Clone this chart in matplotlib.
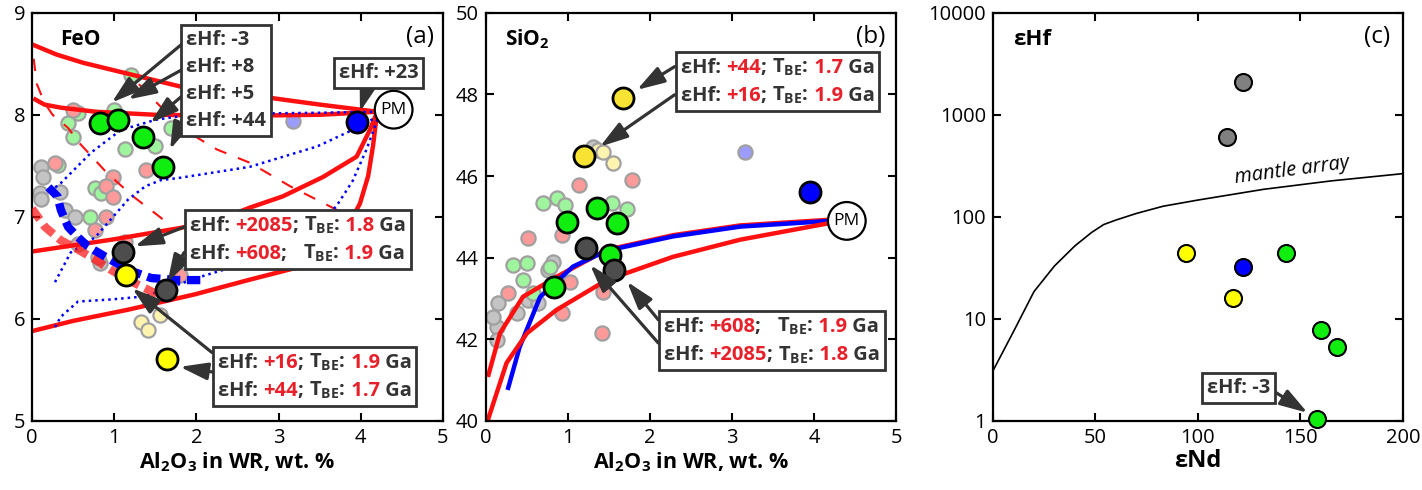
import matplotlib
matplotlib.use("Agg")
import matplotlib.pyplot as plt
from matplotlib.offsetbox import TextArea, HPacker, VPacker, AnnotationBbox

plt.rcParams["font.family"] = ["Open Sans", "DejaVu Sans"]
plt.rcParams["mathtext.fontset"] = "custom"
plt.rcParams["mathtext.rm"] = "Open Sans"
plt.rcParams["mathtext.bf"] = "Open Sans:bold"
plt.rcParams["mathtext.it"] = "Open Sans:italic"

DARK = "#333333"
RED = "#ff1010"
TRED = "#e8202a"
BLUE = "#0000ff"
GREEN = "#10ee10"

# ---------------- panel (a): FeO vs Al2O3 ----------------
a_green_x = [0.83, 1.05, 1.35, 1.59]
a_green_y = [7.92, 7.95, 7.78, 7.49]
a_blue_x = [3.96]
a_blue_y = [7.93]
a_gray_x = [1.11, 1.63]
a_gray_y = [6.66, 6.28]
a_yellow_x = [1.14, 1.64]
a_yellow_y = [6.43, 5.61]

a_fgreen_x = [1.21, 0.56, 0.44, 0.50, 1.00, 1.13, 1.69, 1.50, 0.32, 0.77, 0.84, 0.71]
a_fgreen_y = [8.39, 8.02, 7.92, 7.78, 8.05, 7.66, 7.87, 7.69, 7.51, 7.28, 7.23, 7.00]
a_fpink_x = [0.50, 1.39, 0.28, 0.99, 0.90, 0.99, 0.90, 0.77, 0.56, 1.13, 0.80, 1.80]
a_fpink_y = [8.05, 7.46, 7.53, 7.39, 7.30, 7.19, 7.00, 6.87, 6.73, 6.75, 6.61, 6.43]
a_fgray_x = [0.11, 0.13, 0.10, 0.11, 0.34, 0.40, 0.52, 0.83]
a_fgray_y = [7.49, 7.39, 7.23, 7.17, 7.24, 7.07, 7.00, 6.55]
a_fyellow_x = [1.33, 1.41, 1.56]
a_fyellow_y = [5.97, 5.89, 6.04]
a_fblue_x = [3.18]
a_fblue_y = [7.94]

# red model curves (solid)
a_r1_x = [0.0, 0.3, 0.62, 1.23, 1.84, 2.86, 3.5, 4.2]
a_r1_y = [8.69, 8.59, 8.51, 8.39, 8.27, 8.17, 8.10, 8.03]
a_r2_x = [0.04, 0.15, 0.35, 0.77, 1.5, 2.5, 3.5, 4.2]
a_r2_y = [8.15, 8.10, 8.07, 8.03, 8.00, 7.99, 8.00, 8.03]
a_r3_x = [0.0, 0.5, 1.0, 1.8, 2.3, 2.65, 3.05, 3.54, 3.95, 4.11, 4.2]
a_r3_y = [6.66, 6.72, 6.78, 6.89, 6.98, 7.09, 7.20, 7.39, 7.59, 7.85, 8.03]
a_r4_x = [0.0, 0.5, 1.17, 1.98, 2.63, 3.26, 3.75, 3.99, 4.09, 4.15, 4.2]
a_r4_y = [5.88, 5.98, 6.09, 6.24, 6.38, 6.51, 6.77, 7.13, 7.40, 7.70, 8.03]
# red dashed thin curves
a_rd1_x = [0.02, 0.06, 0.15, 0.25, 0.44, 0.58, 0.90, 1.23, 1.57, 1.62]
a_rd1_y = [8.55, 8.30, 8.12, 8.00, 7.87, 7.72, 7.44, 7.20, 6.99, 6.95]
a_rd2_x = [1.30, 1.60, 1.96, 2.25, 2.65, 3.14, 3.63, 3.75]
a_rd2_y = [8.30, 8.05, 7.80, 7.66, 7.53, 7.30, 7.10, 7.05]
# thick red dashed
a_rt_x = [0.0, 0.16, 0.35, 0.56, 0.77, 0.96, 1.25, 1.45, 1.65]
a_rt_y = [7.08, 6.90, 6.77, 6.68, 6.58, 6.48, 6.35, 6.27, 6.19]
# thick blue dashed
a_bt_x = [0.20, 0.31, 0.35, 0.44, 0.56, 0.68, 0.89, 1.17, 1.45, 1.78, 2.10]
a_bt_y = [7.29, 7.20, 7.07, 6.90, 6.80, 6.71, 6.61, 6.48, 6.40, 6.38, 6.38]
# blue dotted curves
a_bd1_x = [0.22, 0.35, 0.72, 1.08, 1.50, 1.74, 2.5, 3.5, 4.2]
a_bd1_y = [7.25, 7.33, 7.63, 7.85, 7.95, 7.98, 8.01, 8.02, 8.03]
a_bd2_x = [0.28, 0.47, 0.77, 1.17, 1.38, 1.57, 1.78, 2.65, 3.47, 3.87, 4.2]
a_bd2_y = [6.36, 6.65, 6.80, 7.17, 7.30, 7.36, 7.38, 7.49, 7.69, 7.84, 7.98]
a_bd3_x = [0.28, 0.35, 0.56, 0.96, 1.37, 2.04, 2.45, 3.0, 3.4, 3.7, 3.9, 4.07, 4.2]
a_bd3_y = [5.92, 6.02, 6.17, 6.19, 6.22, 6.41, 6.51, 6.70, 6.90, 7.10, 7.35, 7.66, 7.95]

# ---------------- panel (b): SiO2 vs Al2O3 ----------------
b_green_x = [0.99, 1.35, 1.60, 1.51, 0.83]
b_green_y = [44.88, 45.22, 44.86, 44.07, 43.28]
b_gray_x = [1.22, 1.56]
b_gray_y = [44.24, 43.70]
b_yellow_x = [1.67, 1.20]
b_yellow_y = [47.92, 46.50]
b_blue_x = [3.95]
b_blue_y = [45.61]

b_fgreen_x = [0.70, 0.86, 0.96, 1.54, 1.72, 0.33, 0.50, 0.45, 0.78, 0.57]
b_fgreen_y = [45.33, 45.46, 45.29, 45.33, 45.20, 43.81, 43.86, 43.45, 43.77, 43.13]
b_fpink_x = [1.13, 1.78, 0.93, 0.51, 0.27, 1.02, 0.93, 1.43, 1.41]
b_fpink_y = [45.78, 45.90, 44.56, 44.49, 43.14, 43.41, 42.65, 43.16, 42.16]
b_fgray_x = [1.30, 0.82, 0.76, 0.15, 0.38, 0.13, 0.13, 0.51, 0.63, 0.09]
b_fgray_y = [46.70, 43.90, 43.70, 42.90, 42.65, 42.30, 41.99, 42.97, 42.90, 42.55]
b_fyellow_x = [1.37, 1.43, 1.55]
b_fyellow_y = [46.64, 46.60, 46.32]
b_fblue_x = [3.16]
b_fblue_y = [46.60]

b_r1_x = [0.03, 0.17, 0.45, 0.86, 1.47, 2.28, 3.10, 4.20]
b_r1_y = [41.13, 42.15, 43.04, 43.53, 44.19, 44.55, 44.79, 44.93]
b_b1_x = [0.27, 0.41, 0.66, 1.06, 1.47, 2.28, 3.10, 4.20]
b_b1_y = [40.81, 41.81, 43.04, 43.78, 44.17, 44.52, 44.76, 44.90]
b_r2_x = [0.03, 0.25, 0.50, 0.86, 1.47, 2.28, 3.10, 4.20]
b_r2_y = [40.07, 41.42, 42.15, 42.72, 43.45, 44.02, 44.44, 44.85]

# ---------------- panel (c): eHf vs eNd ----------------
c_gray_x = [122, 114]
c_gray_y = [2085, 608]
c_yellow_x = [94, 117]
c_yellow_y = [44, 16]
c_blue_x = [122]
c_blue_y = [32]
c_green_x = [143, 160, 168, 158]
c_green_y = [44, 7.7, 5.3, 1.05]
mantle_x = [0, 10, 20, 30, 40, 48, 54, 60, 70, 83, 100, 132, 165, 200]
mantle_y = [3.1, 7.5, 18.5, 33, 52, 70, 84, 93, 108, 127, 146, 186, 225, 265]

a_ticks_x = [0, 1, 2, 3, 4, 5]
a_ticks_y = [5, 6, 7, 8, 9]
b_ticks_y = [40, 42, 44, 46, 48, 50]
c_ticks_x = [0, 50, 100, 150, 200]
c_ticks_y = [1, 10, 100, 1000, 10000]
c_tick_labels = ["1", "10", "100", "1000", "10000"]

FS = 14.5      # tick labels
BFS = 14.5     # box text


def style_axes(ax):
    for s in ax.spines.values():
        s.set_linewidth(1.6)
    ax.tick_params(direction="in", top=True, right=True, length=6, width=1.5,
                   labelsize=FS, pad=5)
    ax.tick_params(which="minor", left=False, right=False, top=False, bottom=False)


def big(ax, x, y, color, s=230):
    ax.scatter(x, y, s=s, c=color, edgecolors="black", linewidths=2.0, zorder=4)


def faded(ax, x, y, color, s=105):
    ax.scatter(x, y, s=s, c=color, edgecolors="#a0a0a0", linewidths=1.6, zorder=1)


def info_box(ax, rows, x, y):
    lines = []
    for row in rows:
        parts = [TextArea(t, textprops=dict(color=c, fontsize=BFS, fontweight="bold"))
                 for t, c in row]
        lines.append(HPacker(children=parts, align="baseline", pad=0, sep=0))
    box = VPacker(children=lines, align="left", pad=0, sep=5)
    ab = AnnotationBbox(box, (x, y), xycoords="axes fraction", box_alignment=(0, 1),
                        frameon=True,
                        bboxprops=dict(edgecolor=DARK, facecolor="white", linewidth=2,
                                       boxstyle="square,pad=0.35"))
    ab.set_zorder(7)
    ax.add_artist(ab)


def tbe_row(eps, age, gap=" "):
    return [("εHf: ", DARK), (eps, TRED), (";" + gap, DARK), (r"T$_\mathbf{BE}$:", DARK),
            (" " + age, TRED), (" Ga", DARK)]


def arrow(ax, start, end):
    ax.annotate("", xy=end, xytext=start, zorder=6,
                arrowprops=dict(arrowstyle="-|>,head_length=0.8,head_width=0.25",
                                color=DARK, lw=2.3, shrinkA=0, shrinkB=0,
                                mutation_scale=21))


def pm_label(ax, x, y):
    ax.text(x, y, "PM", fontsize=12.5, ha="center", va="center", zorder=5,
            bbox=dict(boxstyle="circle,pad=0.33", facecolor="white",
                      edgecolor="black", linewidth=1.6))


fig = plt.figure(figsize=(14.22, 4.9), dpi=100)
ax_a = fig.add_axes([0.0225, 0.141, 0.289, 0.833])
ax_b = fig.add_axes([0.3418, 0.141, 0.2883, 0.833])
ax_c = fig.add_axes([0.6983, 0.141, 0.2883, 0.833])

xlabel = r"Al$_\mathbf{2}$O$_\mathbf{3}$ in WR, wt. %"

# ---- (a)
ax = ax_a
faded(ax, a_fgray_x, a_fgray_y, "#c4c4c4")
faded(ax, a_fgreen_x, a_fgreen_y, "#9ef59e")
faded(ax, a_fpink_x, a_fpink_y, "#ff9a9a")
faded(ax, a_fyellow_x, a_fyellow_y, "#fff3b0")
faded(ax, a_fblue_x, a_fblue_y, "#9c9cff")
ax.plot(a_r1_x, a_r1_y, color=RED, lw=3.2, zorder=2)
ax.plot(a_r2_x, a_r2_y, color=RED, lw=3.2, zorder=2)
ax.plot(a_r3_x, a_r3_y, color=RED, lw=3.2, zorder=2)
ax.plot(a_r4_x, a_r4_y, color=RED, lw=3.2, zorder=2)
ax.plot(a_rd1_x, a_rd1_y, color=RED, lw=1.5, dashes=(6, 6), zorder=2)
ax.plot(a_rd2_x, a_rd2_y, color=RED, lw=1.5, dashes=(6, 6), zorder=2)
ax.plot(a_rt_x, a_rt_y, color=RED, lw=6, alpha=0.7, dashes=(1.6, 0.8), zorder=3)
ax.plot(a_bt_x, a_bt_y, color=BLUE, lw=6, dashes=(1.6, 0.8), zorder=3)
ax.plot(a_bd1_x, a_bd1_y, color=BLUE, lw=1.8, linestyle=(0, (1, 1.6)), zorder=2)
ax.plot(a_bd2_x, a_bd2_y, color=BLUE, lw=1.8, linestyle=(0, (1, 1.6)), zorder=2)
ax.plot(a_bd3_x, a_bd3_y, color=BLUE, lw=1.8, linestyle=(0, (1, 1.6)), zorder=2)
big(ax, a_green_x, a_green_y, GREEN)
big(ax, a_blue_x, a_blue_y, BLUE)
big(ax, a_gray_x, a_gray_y, "#4d4d4d")
big(ax, a_yellow_x, a_yellow_y, "#ffff00")
pm_label(ax, 4.4, 8.05)
ax.set_xlim(0, 5)
ax.set_ylim(5, 9)
ax.set_xticks(a_ticks_x)
ax.set_yticks(a_ticks_y)
style_axes(ax)
ax.set_xlabel(xlabel, fontsize=15.5, fontweight="bold", labelpad=2)
ax.text(0.068, 0.935, "FeO", transform=ax.transAxes, fontsize=15, fontweight="bold",
        va="center")
ax.text(0.978, 0.94, "(a)", transform=ax.transAxes, fontsize=17.5, va="center",
        ha="right")

K = DARK
info_box(ax, [[("εHf: -3", K)], [("εHf: +8", K)], [("εHf: +5", K)], [("εHf: +44", K)]],
         0.375, 0.958)
arrow(ax, (1.82, 8.69), (0.97, 8.12))
arrow(ax, (1.82, 8.44), (1.17, 8.15))
arrow(ax, (1.82, 8.18), (1.44, 7.92))
arrow(ax, (1.82, 7.92), (1.68, 7.66))
info_box(ax, [[("εHf: +23", K)]], 0.747, 0.877)
arrow(ax, (4.08, 8.27), (3.99, 8.03))
info_box(ax, [tbe_row("+2085", "1.8"), tbe_row("+608", "1.9", "   ")], 0.384, 0.505)
arrow(ax, (1.85, 6.90), (1.25, 6.71))
arrow(ax, (1.85, 6.65), (1.65, 6.36))
info_box(ax, [tbe_row("+16", "1.9"), tbe_row("+44", "1.7")], 0.453, 0.169)
arrow(ax, (2.19, 5.67), (1.22, 6.30))
arrow(ax, (2.19, 5.48), (1.80, 5.53))

# ---- (b)
ax = ax_b
faded(ax, b_fgray_x, b_fgray_y, "#c4c4c4")
faded(ax, b_fgreen_x, b_fgreen_y, "#9ef59e")
faded(ax, b_fpink_x, b_fpink_y, "#ff9a9a")
faded(ax, b_fyellow_x, b_fyellow_y, "#fff3b0")
faded(ax, b_fblue_x, b_fblue_y, "#9c9cff")
ax.plot(b_r1_x, b_r1_y, color=RED, lw=3.2, zorder=2)
ax.plot(b_b1_x, b_b1_y, color=BLUE, lw=3.2, zorder=2)
ax.plot(b_r2_x, b_r2_y, color=RED, lw=3.2, zorder=2)
big(ax, b_green_x, b_green_y, GREEN)
big(ax, b_gray_x, b_gray_y, "#4d4d4d")
big(ax, b_yellow_x, b_yellow_y, "#f8e234")
big(ax, b_blue_x, b_blue_y, BLUE)
pm_label(ax, 4.4, 44.9)
ax.set_xlim(0, 5)
ax.set_ylim(40, 50)
ax.set_xticks(a_ticks_x)
ax.set_yticks(b_ticks_y)
style_axes(ax)
ax.set_xlabel(xlabel, fontsize=15.5, fontweight="bold", labelpad=2)
ax.text(0.046, 0.935, r"SiO$_\mathbf{2}$", transform=ax.transAxes, fontsize=15,
        fontweight="bold", va="center")
ax.text(0.973, 0.94, "(b)", transform=ax.transAxes, fontsize=17.5, va="center",
        ha="right")
info_box(ax, [tbe_row("+44", "1.7"), tbe_row("+16", "1.9")], 0.476, 0.892)
arrow(ax, (2.30, 48.68), (1.84, 48.11))
arrow(ax, (2.30, 47.99), (1.39, 46.72))
info_box(ax, [tbe_row("+608", "1.9", "   "), tbe_row("+2085", "1.8")], 0.434, 0.257)
arrow(ax, (2.10, 42.48), (1.72, 43.41))
arrow(ax, (2.10, 41.91), (1.27, 43.82))

# ---- (c)
ax = ax_c
ax.set_yscale("log")
ax.plot(mantle_x, mantle_y, color="black", lw=1.2, zorder=2)
c_big = 150
ax.scatter(c_gray_x, c_gray_y, s=c_big, c="#808080", edgecolors="black", linewidths=1.5,
           zorder=4)
ax.scatter(c_yellow_x, c_yellow_y, s=c_big, c="#ffff00", edgecolors="black",
           linewidths=1.5, zorder=4)
ax.scatter(c_blue_x, c_blue_y, s=c_big, c=BLUE, edgecolors="black", linewidths=1.5,
           zorder=4)
ax.scatter(c_green_x, c_green_y, s=c_big, c=GREEN, edgecolors="black", linewidths=1.5,
           zorder=4, clip_on=False)
ax.set_xlim(0, 200)
ax.set_ylim(1, 10000)
ax.set_xticks(c_ticks_x)
ax.set_yticks(c_ticks_y)
ax.set_yticklabels(c_tick_labels)
style_axes(ax)
ax.set_xlabel("εNd", fontsize=17, fontweight="bold", labelpad=1)
ax.text(0.049, 0.935, "εHf", transform=ax.transAxes, fontsize=16, fontweight="bold",
        va="center")
ax.text(0.968, 0.94, "(c)", transform=ax.transAxes, fontsize=17.5, va="center",
        ha="right")
ax.text(146, 285, "mantle array", fontsize=14.5, style="italic", rotation=7.5,
        ha="center", va="center")
info_box(ax, [[("εHf: -3", K)]], 0.522, 0.105)
arrow(ax, (137.6, 1.92), (153.5, 1.2))

fig.savefig("out.png", dpi=100)
